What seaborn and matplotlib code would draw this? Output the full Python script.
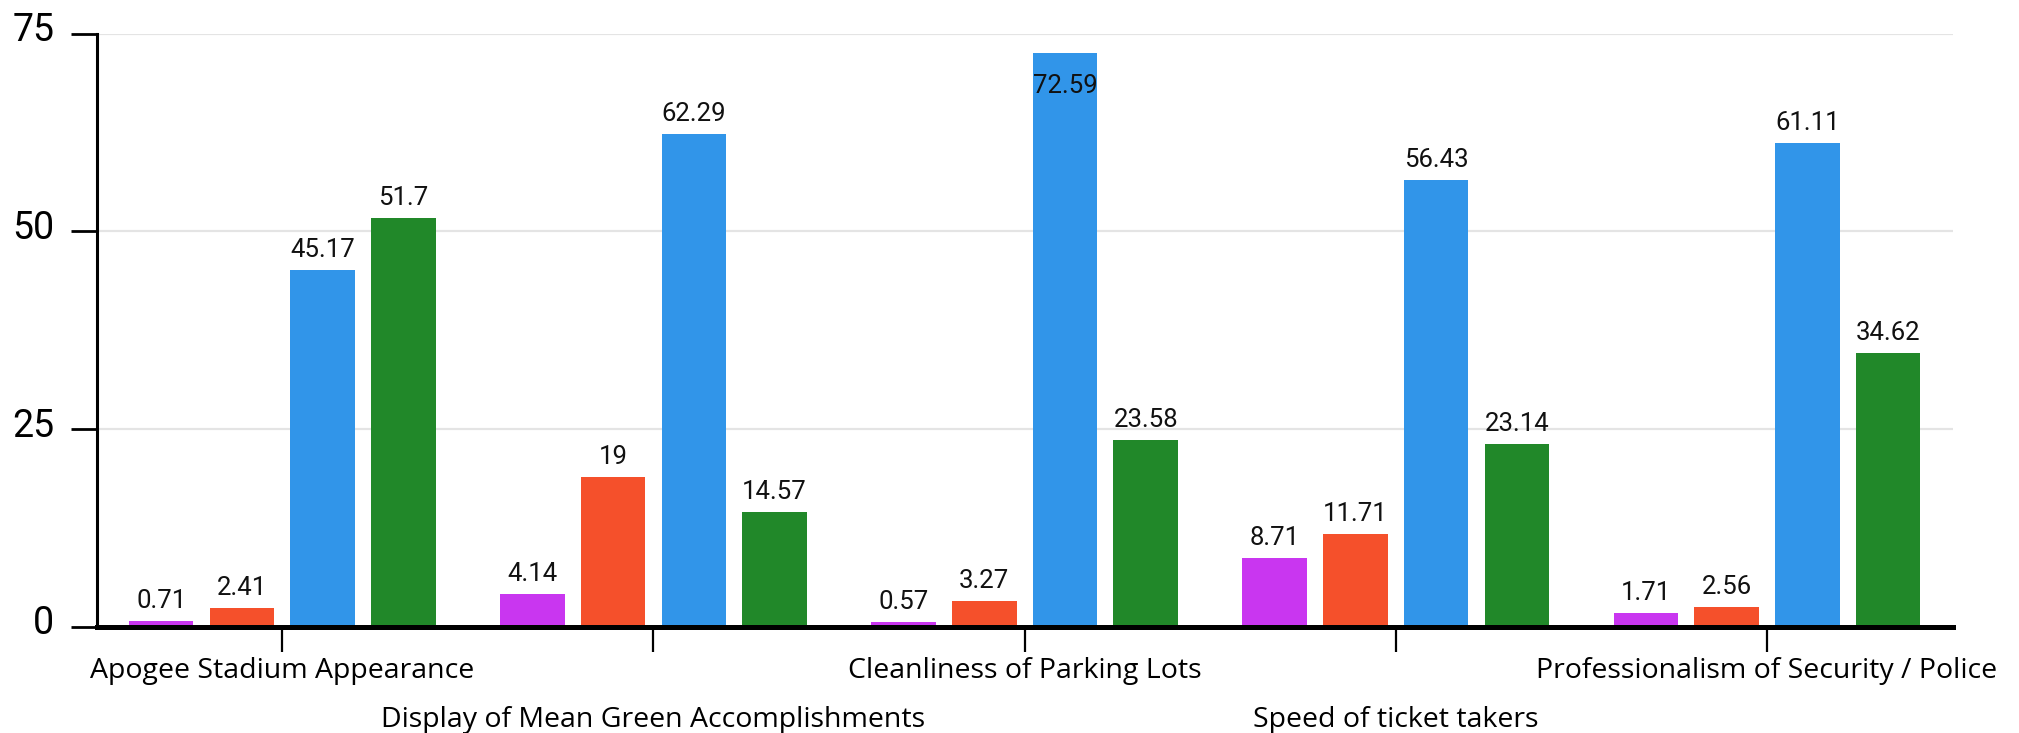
import matplotlib
matplotlib.use("Agg")
import matplotlib.pyplot as plt
import matplotlib.transforms as mtransforms
import seaborn as sns
import pandas as pd

# Survey categories and the share (%) of responses for each rating level
categories = [
    "Apogee Stadium Appearance",
    "Display of Mean Green Accomplishments",
    "Cleanliness of Parking Lots",
    "Speed of ticket takers",
    "Professionalism of Security / Police",
]
levels = ["Rating 1", "Rating 2", "Rating 3", "Rating 4"]
rating_1 = [0.71, 4.14, 0.57, 8.71, 1.71]
rating_2 = [2.41, 19, 3.27, 11.71, 2.56]
rating_3 = [45.17, 62.29, 72.59, 56.43, 61.11]
rating_4 = [51.7, 14.57, 23.58, 23.14, 34.62]
y_ticks = [0, 25, 50, 75]

palette = ["#C936F0", "#F5502B", "#3195E9", "#218829"]

rows = []
for level, vals in zip(levels, [rating_1, rating_2, rating_3, rating_4]):
    for cat, v in zip(categories, vals):
        rows.append({"category": cat, "level": level, "value": v})
df = pd.DataFrame(rows)

sns.set_style("white")
DPI = 100
fig = plt.figure(figsize=(20.19, 7.33), dpi=DPI)
ax = fig.add_axes([96.7 / 2019, 1 - 627 / 733, (1952.6 - 96.7) / 2019, (627 - 33.5) / 733])

sns.barplot(
    data=df, x="category", y="value", hue="level",
    order=categories, hue_order=levels, palette=palette,
    width=0.87, gap=0.2, saturation=1, legend=False, ax=ax,
    edgecolor="none", linewidth=0,
)

ax.set_xlim(-0.5, len(categories) - 0.5)
ax.set_ylim(0, 75)
ax.set_xlabel("")
ax.set_ylabel("")

# Horizontal grid
ax.set_yticks(y_ticks)
ax.yaxis.grid(True, color="#e4e4e4", linewidth=1.6, zorder=0)
ax.xaxis.grid(False)
ax.set_axisbelow(True)

# Spines
for side in ("top", "right"):
    ax.spines[side].set_visible(False)
ax.spines["left"].set_linewidth(2.2)
ax.spines["left"].set_color("black")
ax.spines["bottom"].set_linewidth(3.6)
ax.spines["bottom"].set_color("black")
ax.spines["bottom"].set_zorder(5)

# Y ticks and labels
ax.tick_params(axis="y", left=True, direction="out", length=18.5, width=2.0,
               color="black", pad=12, labelsize=27, labelcolor="black")
for lab in ax.get_yticklabels():
    lab.set_fontfamily(["Roboto", "DejaVu Sans"])
shift_up = mtransforms.ScaledTranslation(0, 7 / DPI, fig.dpi_scale_trans)
for lab in ax.get_yticklabels():
    lab.set_transform(lab.get_transform() + shift_up)

# X ticks and staggered labels
ax.set_xticks(range(len(categories)))
ax.set_xticklabels(categories, fontsize=20.5, color="black",
                   fontfamily=["Open Sans", "DejaVu Sans"])
ax.tick_params(axis="x", bottom=True, direction="out", length=18, width=1.6,
               color="black")
for i, tick in enumerate(ax.xaxis.get_major_ticks()):
    tick.set_pad(3.5 if i % 2 == 0 else 39)

# Value labels above each bar (inside the bar when it would not fit)
ymax = ax.get_ylim()[1]
for container in ax.containers:
    for bar, v in zip(container.patches, container.datavalues):
        x = bar.get_x() + bar.get_width() / 2
        txt = f"{v:g}"
        dy = -40 if v + 4 > ymax else 13
        ax.annotate(txt, (x, v), xytext=(0, dy), textcoords="offset pixels",
                    ha="center", va="baseline", fontsize=18.5, color="#111111",
                    fontfamily=["Roboto", "DejaVu Sans"], zorder=6)

fig.savefig("out.png", dpi=DPI, facecolor="white")
